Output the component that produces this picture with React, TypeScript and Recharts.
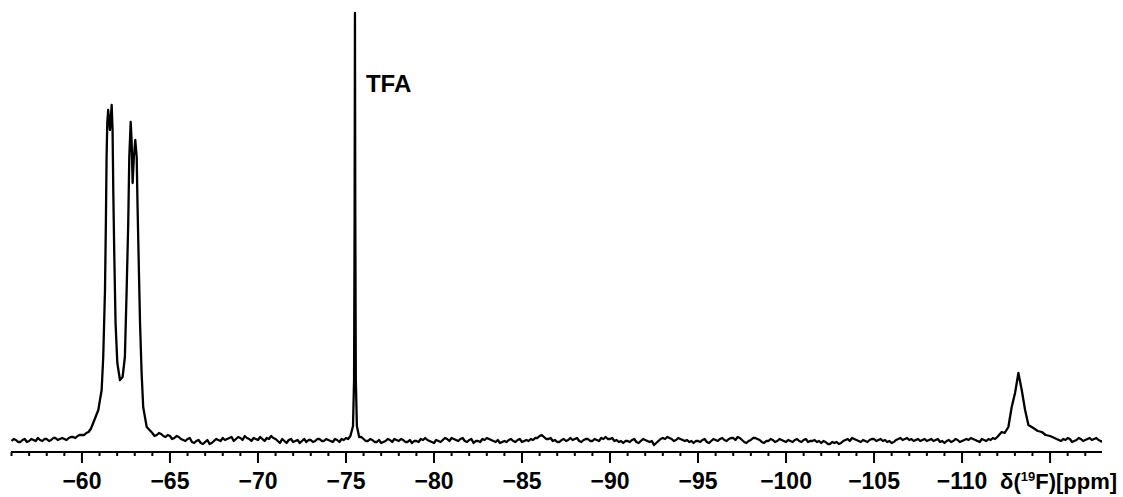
import { LineChart, Line, XAxis, YAxis, ReferenceDot } from 'recharts';

// [ppm, intensity], baseline = 0
const baselineLeft: [number, number][] = [
  [-56.0, -1], [-56.25, 0], [-56.5, -2], [-56.75, 1], [-57.0, -1], [-57.25, 0], [-57.5, 2], [-57.75, -1],
  [-58.0, 1], [-58.25, 0], [-58.5, 2], [-58.75, 1], [-59.0, 1], [-59.25, 2], [-59.5, 3], [-59.75, 4],
  [-60.0, 5], [-60.25, 7], [-60.5, 11],
];

const cf3Peaks: [number, number][] = [
  [-60.64, 17], [-60.93, 30], [-61.12, 50], [-61.21, 83], [-61.31, 150], [-61.36, 217], [-61.4, 283],
  [-61.44, 317], [-61.49, 330], [-61.59, 310], [-61.69, 335], [-61.74, 310], [-61.78, 250], [-61.84, 183],
  [-61.91, 117], [-62.01, 77], [-62.16, 60], [-62.31, 63], [-62.44, 83], [-62.54, 150], [-62.63, 217],
  [-62.69, 283], [-62.77, 318], [-62.82, 300], [-62.88, 257], [-62.95, 283], [-63.03, 300], [-63.11, 283],
  [-63.16, 233], [-63.22, 183], [-63.3, 117], [-63.39, 67], [-63.48, 33], [-63.68, 13],
];

const baselineMidA: [number, number][] = [
  [-64.0, 7], [-64.25, 5], [-64.5, 6], [-64.75, 3], [-65.0, 4], [-65.25, 2], [-65.5, 3], [-65.75, 0],
  [-66.0, 1], [-66.25, -2], [-66.5, -1], [-66.75, -3], [-67.0, -2], [-67.25, -4], [-67.5, -1], [-67.75, 0],
  [-68.0, 2], [-68.25, 1], [-68.5, 3], [-68.75, 1], [-69.0, 2], [-69.25, 4], [-69.5, 1], [-69.75, 2],
  [-70.0, 0], [-70.25, 1], [-70.5, 2], [-70.75, 4], [-71.0, 1], [-71.25, -3], [-71.5, -1], [-71.75, 0],
  [-72.0, -2], [-72.25, 0], [-72.5, -1], [-72.75, -2], [-73.0, 0], [-73.25, -1], [-73.5, 1], [-73.75, -1],
  [-74.0, 0], [-74.25, -2], [-74.5, 0], [-74.75, 1], [-75.0, 2], [-75.25, 4],
];

const tfaPeak: [number, number][] = [
  [-75.4, 14], [-75.46, 60], [-75.49, 220], [-75.51, 427], [-75.53, 220], [-75.56, 60], [-75.62, 14], [-75.75, 3],
];

const baselineMidB: [number, number][] = [
  [-76.0, 1], [-76.25, -1], [-76.5, 0], [-76.75, -2], [-77.0, -3], [-77.25, -1], [-77.5, 0], [-77.75, 1],
  [-78.0, -1], [-78.25, 0], [-78.5, -2], [-78.75, -3], [-79.0, -1], [-79.25, 1], [-79.5, 2], [-79.75, -1],
  [-80.0, -3], [-80.25, -1], [-80.5, 0], [-80.75, 1], [-81.0, 2], [-81.25, 0], [-81.5, 1], [-81.75, -1],
  [-82.0, 0], [-82.25, -3], [-82.5, -1], [-82.75, 1], [-83.0, 2], [-83.25, 0], [-83.5, -2], [-83.75, -3],
  [-84.0, -1], [-84.25, 0], [-84.5, -1], [-84.75, 0], [-85.0, -2], [-85.25, 0], [-85.5, 1], [-85.75, 2],
  [-86.0, 4], [-86.25, 3], [-86.5, 1], [-86.75, -1], [-87.0, -2], [-87.25, 0], [-87.5, -1], [-87.75, 2],
  [-88.0, 1], [-88.25, -1], [-88.5, 0], [-88.75, 1], [-89.0, -1], [-89.25, 0], [-89.5, 2], [-89.75, 3],
  [-90.0, 1], [-90.25, -1], [-90.5, -2], [-90.75, -3], [-91.0, -1], [-91.25, 0], [-91.5, -2], [-91.75, -1],
  [-92.0, 0], [-92.25, -2], [-92.5, -5], [-92.75, -1], [-93.0, 2], [-93.25, 3], [-93.5, 1], [-93.75, 0],
  [-94.0, 1], [-94.25, -1], [-94.5, -2], [-94.75, -3], [-95.0, -1], [-95.25, 0], [-95.5, -2], [-95.75, -1],
  [-96.0, 0], [-96.25, 1], [-96.5, 0], [-96.75, 1], [-97.0, 2], [-97.25, 3], [-97.5, 0], [-97.75, -3],
  [-98.0, 0], [-98.25, 2], [-98.5, 0], [-98.75, -3], [-99.0, -1], [-99.25, 0], [-99.5, -1], [-99.75, 0],
  [-100.0, -2], [-100.25, -1], [-100.5, 0], [-100.75, -1], [-101.0, 0], [-101.25, -2], [-101.5, -1], [-101.75, -2],
  [-102.0, -3], [-102.25, -2], [-102.5, -4], [-102.75, -3], [-103.0, -4], [-103.25, -1], [-103.5, 1], [-103.75, 2],
  [-104.0, 0], [-104.25, -2], [-104.5, -1], [-104.75, 0], [-105.0, 1], [-105.25, 0], [-105.5, -1], [-105.75, -2],
  [-106.0, -3], [-106.25, 0], [-106.5, 2], [-106.75, 1], [-107.0, 0], [-107.25, -1], [-107.5, 1], [-107.75, 0],
  [-108.0, -1], [-108.25, 1], [-108.5, 0], [-108.75, -2], [-109.0, -3], [-109.25, 0], [-109.5, -1], [-109.75, 0],
  [-110.0, -1], [-110.25, 1], [-110.5, 2], [-110.75, 0], [-111.0, -2], [-111.25, 0], [-111.5, 1], [-111.75, 2],
  [-112.0, 3],
];

const peak113: [number, number][] = [
  [-112.25, 8], [-112.42, 7], [-112.63, 13], [-112.82, 33], [-113.01, 47], [-113.2, 67], [-113.39, 50],
  [-113.58, 30], [-113.77, 15], [-114.05, 12], [-114.3, 9], [-114.53, 8], [-114.75, 5], [-115.0, 4],
];

const baselineRight: [number, number][] = [
  [-115.25, 2], [-115.5, 0], [-115.75, 1], [-116.0, 2], [-116.25, -2], [-116.5, 0], [-116.75, 1],
  [-117.0, 0], [-117.25, 2], [-117.5, 1], [-117.75, 0], [-117.95, -2],
];

// extra noise samples in between, read at the finer wiggles
const baselineFine: [number, number][] = [
  [-56.125, 1], [-56.375, -2], [-56.625, 0], [-56.875, -2], [-57.125, 1], [-57.375, -1], [-57.625, 0], [-57.875, 1],
  [-58.125, -1], [-58.375, 2], [-58.625, 0], [-58.875, 2], [-59.125, 0], [-59.375, 3], [-59.625, 2], [-59.875, 5],
  [-60.125, 5], [-60.375, 8],
  [-64.125, 4], [-64.375, 7], [-64.625, 4], [-64.875, 5], [-65.125, 1], [-65.375, 4], [-65.625, 1], [-65.875, -1],
  [-66.125, 2], [-66.375, -3], [-66.625, 0], [-66.875, -4], [-67.125, 0], [-67.375, -3], [-67.625, 1], [-67.875, -1],
  [-68.125, 0], [-68.375, 2], [-68.625, -1], [-68.875, 3], [-69.125, 0], [-69.375, 2], [-69.625, -1], [-69.875, 1],
  [-70.125, 3], [-70.375, -1], [-70.625, 1], [-70.875, 2], [-71.125, -1], [-71.375, 1], [-71.625, -3], [-71.875, 1],
  [-72.125, -1], [-72.375, -3], [-72.625, 1], [-72.875, 0], [-73.125, -2], [-73.375, 1], [-73.625, -1], [-73.875, 1],
  [-74.125, -1], [-74.375, 1], [-74.625, -2], [-74.875, 0], [-75.125, 1],
  [-75.875, 3], [-76.125, -1], [-76.375, 1], [-76.625, -2], [-76.875, 0], [-77.125, -2], [-77.375, 1], [-77.625, -2],
  [-77.875, 0], [-78.125, 1], [-78.375, -2], [-78.625, 0], [-78.875, -1], [-79.125, -2], [-79.375, 0], [-79.625, 0],
  [-79.875, -2], [-80.125, 0], [-80.375, -2], [-80.625, 2], [-80.875, -1], [-81.125, 1], [-81.375, -1], [-81.625, 2],
  [-81.875, -2], [-82.125, 1], [-82.375, -1], [-82.625, -2], [-82.875, 0], [-83.125, 1], [-83.375, -1], [-83.625, 0],
  [-83.875, -2], [-84.125, -2], [-84.375, 1], [-84.625, -2], [-84.875, 1], [-85.125, -1], [-85.375, -1], [-85.625, 0],
  [-85.875, 2], [-86.125, 5], [-86.375, 1], [-86.625, 2], [-86.875, 0], [-87.125, -2], [-87.375, 1], [-87.625, 0],
  [-87.875, 0], [-88.125, 2], [-88.375, -2], [-88.625, 1], [-88.875, -1], [-89.125, 1], [-89.375, -1], [-89.625, 1],
  [-89.875, 1], [-90.125, 2], [-90.375, 0], [-90.625, -1], [-90.875, -1], [-91.125, -2], [-91.375, 1], [-91.625, -3],
  [-91.875, 1], [-92.125, -1], [-92.375, -1], [-92.625, -3], [-92.875, 1], [-93.125, 1], [-93.375, 2], [-93.625, -1],
  [-93.875, 2], [-94.125, 0], [-94.375, 0], [-94.625, -1], [-94.875, -1], [-95.125, -2], [-95.375, 1], [-95.625, -3],
  [-95.875, 1], [-96.125, -1], [-96.375, 2], [-96.625, -1], [-96.875, 2], [-97.125, 0], [-97.375, 2], [-97.625, -2],
  [-97.875, -1], [-98.125, 2], [-98.375, 1], [-98.625, -2], [-98.875, -1], [-99.125, 1], [-99.375, -2], [-99.625, 1],
  [-99.875, -1], [-100.125, 0], [-100.375, -2], [-100.625, 1], [-100.875, -2], [-101.125, 1], [-101.375, -1], [-101.625, 0],
  [-101.875, -1], [-102.125, -1], [-102.375, -4], [-102.625, -2], [-102.875, -2], [-103.125, -3], [-103.375, 0], [-103.625, -1],
  [-103.875, 1], [-104.125, -1], [-104.375, 0], [-104.625, -2], [-104.875, 1], [-105.125, -1], [-105.375, 1], [-105.625, 0],
  [-105.875, -1], [-106.125, -2], [-106.375, 1], [-106.625, 0], [-106.875, 2], [-107.125, 1], [-107.375, 0], [-107.625, -1],
  [-107.875, 1], [-108.125, 0], [-108.375, -1], [-108.625, 1], [-108.875, -1], [-109.125, -1], [-109.375, -2], [-109.625, 1],
  [-109.875, -2], [-110.125, 0], [-110.375, 0], [-110.625, 1], [-110.875, -1], [-111.125, 1], [-111.375, -1], [-111.625, 0],
  [-111.875, 1],
  [-115.125, 3], [-115.375, 1], [-115.625, -1], [-115.875, 0], [-116.125, 1], [-116.375, -1], [-116.625, 2], [-116.875, -1],
  [-117.125, 1], [-117.375, 0], [-117.625, 2], [-117.875, -1],
];

const labelledTicks = [-60, -65, -70, -75, -80, -85, -90, -95, -100, -105, -110];
const axisTitle = { main: 'δ(', sup: '19', rest: 'F)[ppm]' };

const spectrum = [
  ...baselineLeft, ...cf3Peaks, ...baselineMidA, ...tfaPeak, ...baselineMidB, ...peak113, ...baselineRight, ...baselineFine,
]
  .map(([ppm, intensity]) => ({ ppm, intensity }))
  .sort((a, b) => b.ppm - a.ppm);

const allTicks = Array.from({ length: 62 }, (_, i) => -56 - i);

const FONT = '"Liberation Sans", Arial, sans-serif';

function PpmTick(props: any) {
  const { x, y, payload } = props;
  const v = payload.value as number;
  const major = v % 5 === 0;
  return (
    <g>
      <line x1={x} x2={x} y1={y} y2={y + (major ? 11 : 4)} stroke="#000" strokeWidth={2} />
      {labelledTicks.includes(v) && (
        <text x={x} y={y + 37} textAnchor="middle" fontFamily={FONT} fontWeight="bold" fontSize={23} fill="#000">
          {`\u2212${Math.abs(v)}`}
        </text>
      )}
      {v === -110 && (
        <text x={x + 38} y={y + 37} textAnchor="start" fontFamily={FONT} fontWeight="bold" fontSize={22} fill="#000">
          {axisTitle.main}
          <tspan fontSize={13} dy={-8}>{axisTitle.sup}</tspan>
          <tspan dy={8}>{axisTitle.rest}</tspan>
        </text>
      )}
    </g>
  );
}

function TfaLabel(props: any) {
  const { viewBox } = props;
  return (
    <text x={viewBox.x + 11} y={viewBox.y + 8} fontFamily={FONT} fontWeight="bold" fontSize={24} fill="#000">
      TFA
    </text>
  );
}

export default function App() {
  return (
    <div style={{ position: 'absolute', left: 0, top: 0, background: '#fff' }}>
      <LineChart width={1123} height={497} data={spectrum} margin={{ top: 10, right: 21, bottom: 0, left: 11 }}>
        <XAxis
          dataKey="ppm"
          type="number"
          domain={[-117.95, -55.97]}
          reversed
          ticks={allTicks}
          interval={0}
          tick={<PpmTick />}
          tickLine={false}
          tickSize={0}
          tickMargin={0}
          height={45}
          axisLine={{ stroke: '#000', strokeWidth: 2 }}
          allowDataOverflow
        />
        <YAxis hide domain={[-12, 430]} allowDataOverflow />
        <Line
          dataKey="intensity"
          type="linear"
          stroke="#000"
          strokeWidth={2.3}
          strokeLinejoin="round"
          dot={false}
          isAnimationActive={false}
        />
        <ReferenceDot x={-75.51} y={356} r={0} fill="none" stroke="none" label={<TfaLabel />} />
      </LineChart>
    </div>
  );
}
